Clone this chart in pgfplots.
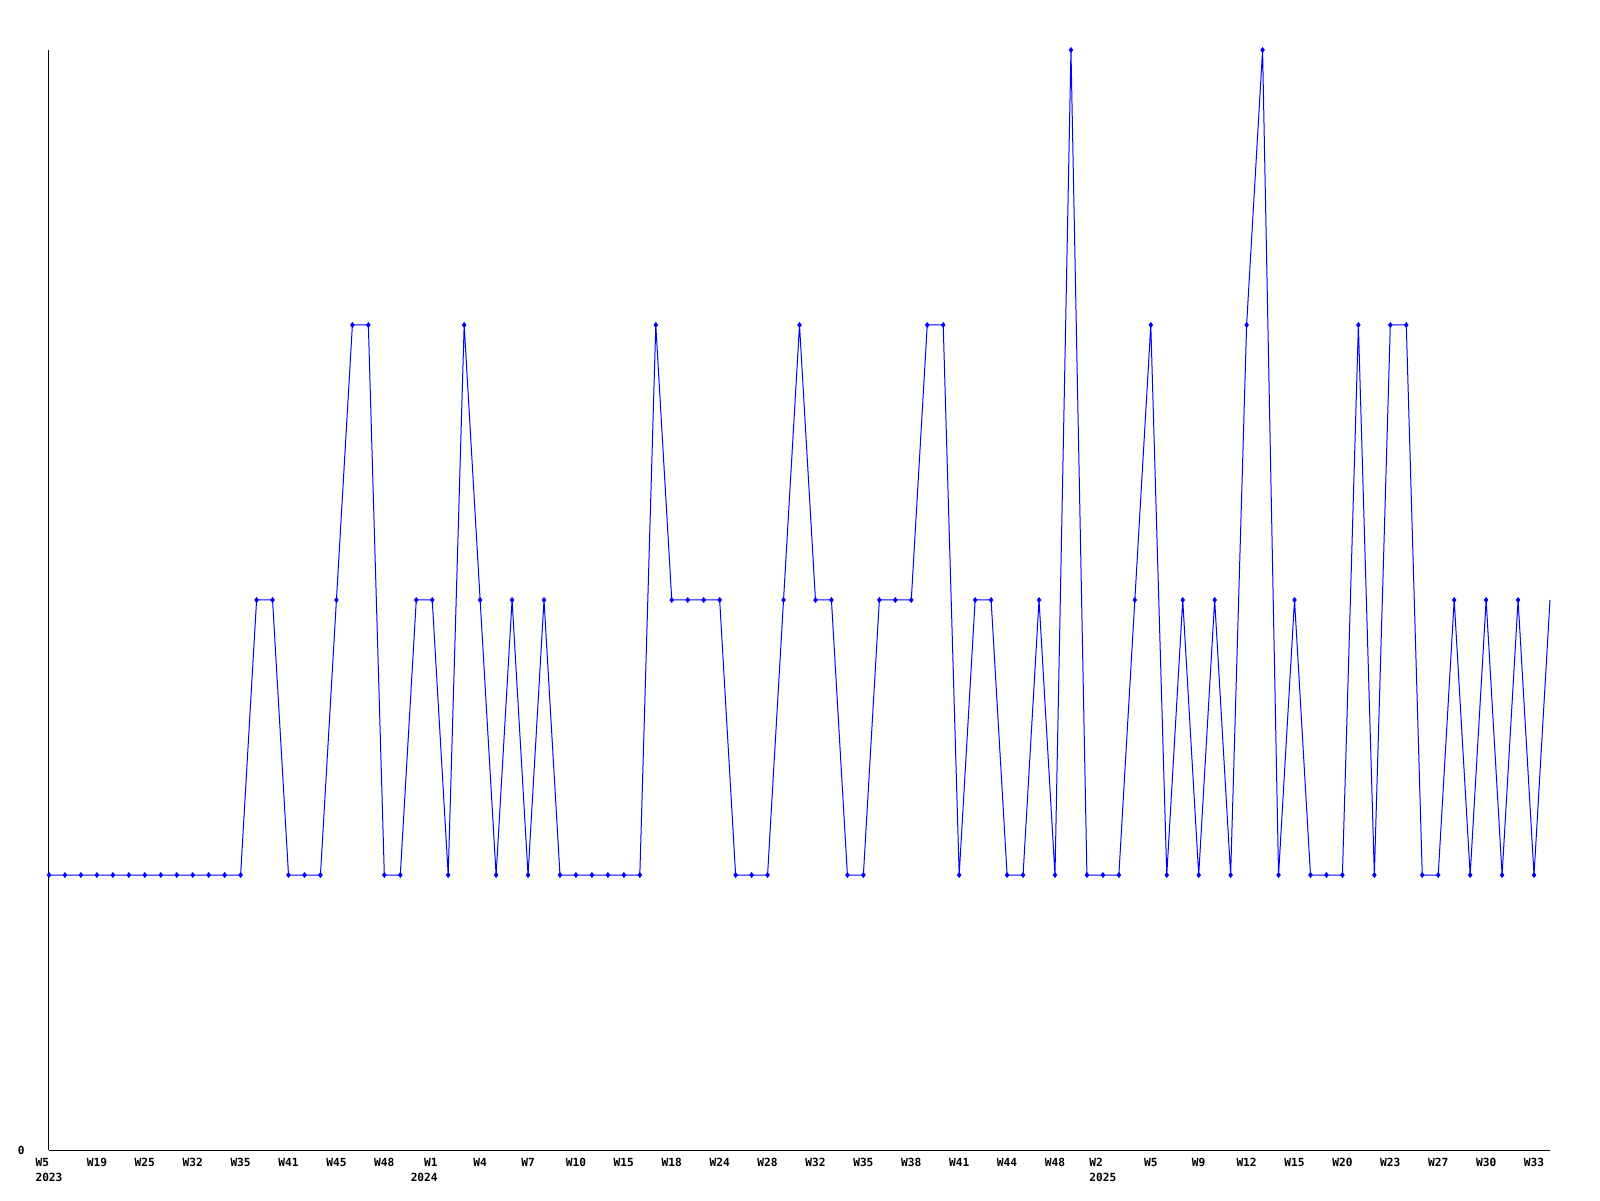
\documentclass[border=0pt]{standalone}
\usepackage{pgfplots}
\pgfplotsset{compat=1.18}
\usepackage{fontspec}
\setmonofont{DejaVu Sans Mono}
\begin{document}
\begin{tikzpicture}[x=1pt,y=1pt]
\path[use as bounding box] (0,0) rectangle (800,600);
\begin{axis}[
  at={(24.5pt,25pt)}, anchor=origin,
  scale only axis, width=750.5pt, height=550pt,
  xmin=0, xmax=94, ymin=0, ymax=4,
  axis x line*=bottom, axis y line*=left,
  axis line style={-, black, line width=0.5pt},
  xtick={0,3,...,93},
  xticklabels={
    {\begin{tabular}[t]{@{}l@{}}W5\\2023\end{tabular}},W19,W25,W32,W35,W41,W45,W48,
    {\begin{tabular}[t]{@{}r@{}}W1\\2024\end{tabular}\hspace*{8pt}},W4,W7,W10,W15,W18,W24,W28,W32,W35,W38,W41,W44,W48,
    {\begin{tabular}[t]{@{}l@{}}W2\\2025\end{tabular}},W5,W9,W12,W15,W20,W23,W27,W30,W33},
  ytick={0}, yticklabels={0},
  major tick length=0pt,
  tick label style={font=\ttfamily\bfseries\fontsize{5.6}{7.8}\selectfont},
  xticklabel style={anchor=base, inner sep=0pt, yshift=-8pt, text height=4pt, text depth=0pt},
  yticklabel style={anchor=east, inner sep=0pt, xshift=-12pt},
  clip=false,
]
\addplot[color={rgb,255:red,0;green,0;blue,255}, line width=0.5pt, mark=diamond*, mark size=1.1pt, mark indices={1,...,94}]
coordinates {
(0,1)(1,1)(2,1)(3,1)(4,1)(5,1)(6,1)(7,1)(8,1)(9,1)(10,1)(11,1)(12,1)
(13,2)(14,2)(15,1)(16,1)(17,1)(18,2)(19,3)(20,3)(21,1)(22,1)(23,2)(24,2)
(25,1)(26,3)(27,2)(28,1)(29,2)(30,1)(31,2)(32,1)(33,1)(34,1)(35,1)(36,1)
(37,1)(38,3)(39,2)(40,2)(41,2)(42,2)(43,1)(44,1)(45,1)(46,2)(47,3)(48,2)
(49,2)(50,1)(51,1)(52,2)(53,2)(54,2)(55,3)(56,3)(57,1)(58,2)(59,2)(60,1)
(61,1)(62,2)(63,1)(64,4)(65,1)(66,1)(67,1)(68,2)(69,3)(70,1)(71,2)(72,1)
(73,2)(74,1)(75,3)(76,4)(77,1)(78,2)(79,1)(80,1)(81,1)(82,3)(83,1)(84,3)
(85,3)(86,1)(87,1)(88,2)(89,1)(90,2)(91,1)(92,2)(93,1)(94,2)
};
\end{axis}
\end{tikzpicture}
\end{document}
